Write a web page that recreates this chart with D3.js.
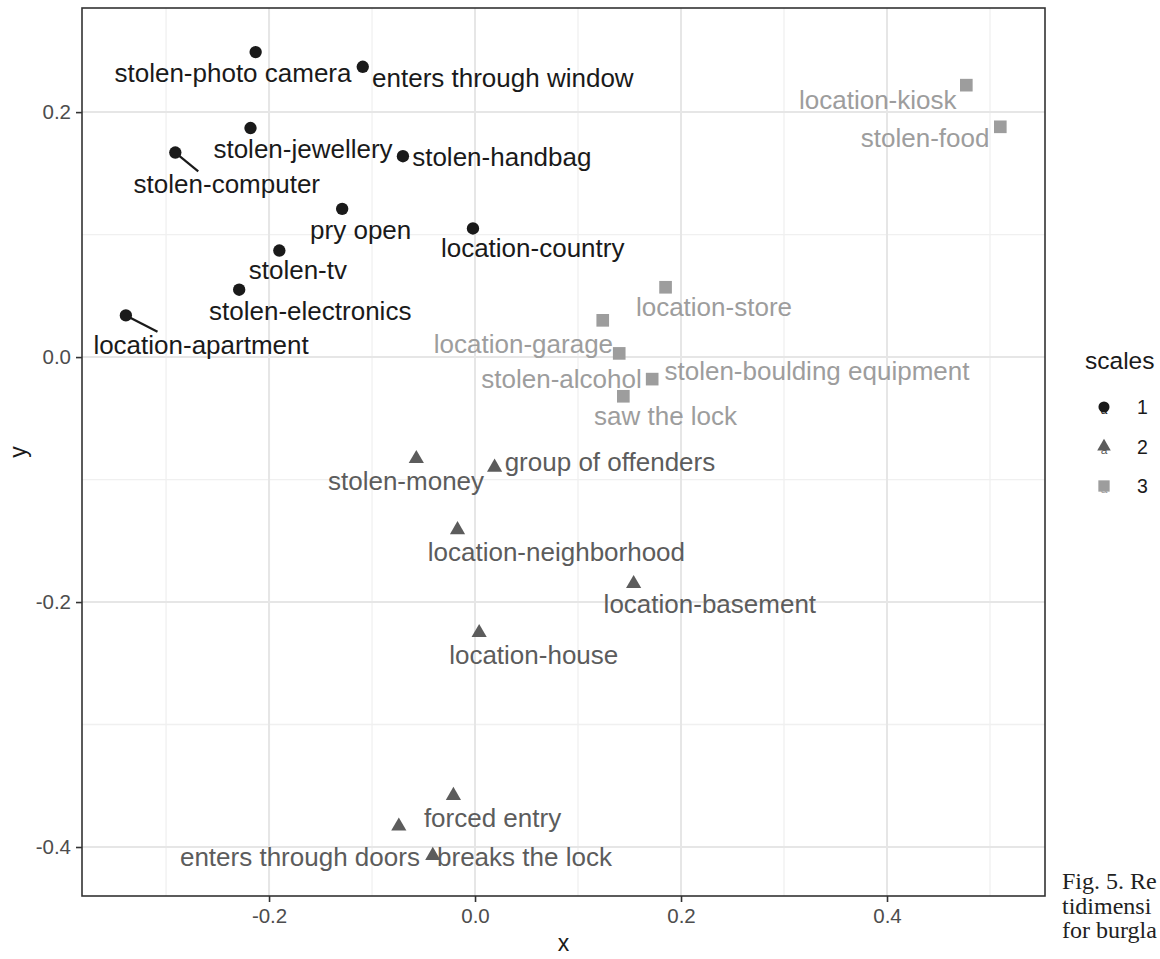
<!DOCTYPE html>
<html>
<head>
<meta charset="utf-8">
<script src="https://cdn.jsdelivr.net/npm/d3@7"></script>
<style>
body { margin: 0; background: #ffffff; }
svg { display: block; font-family: "Liberation Sans", Arial, sans-serif; }
</style>
</head>
<body>
<div class="chart"></div>
<script>
// ---- data ----
let SCALES = ["1", "2", "3"];

let NAMES_1 = ["stolen-photo camera", "enters through window", "stolen-jewellery", "stolen-handbag",
               "stolen-computer", "pry open", "location-country", "stolen-tv",
               "stolen-electronics", "location-apartment"];
let X_1 = [-0.213, -0.109, -0.218, -0.070, -0.291, -0.129, -0.002, -0.190, -0.229, -0.339];
let Y_1 = [0.249, 0.237, 0.187, 0.164, 0.167, 0.121, 0.105, 0.087, 0.055, 0.034];
// repelled label positions (data units)
let LX_1 = [-0.235, 0.027, -0.167, 0.026, -0.241, -0.111, 0.056, -0.172, -0.160, -0.266];
let LY_1 = [0.232, 0.228, 0.170, 0.163, 0.141, 0.104, 0.089, 0.071, 0.038, 0.010];

let NAMES_2 = ["stolen-money", "group of offenders", "location-neighborhood", "location-basement",
               "location-house", "forced entry", "enters through doors", "breaks the lock"];
let X_2 = [-0.057, 0.019, -0.017, 0.154, 0.004, -0.021, -0.074, -0.041];
let Y_2 = [-0.083, -0.090, -0.141, -0.185, -0.225, -0.358, -0.383, -0.407];
let LX_2 = [-0.067, 0.131, 0.079, 0.228, 0.057, 0.017, -0.170, 0.048];
let LY_2 = [-0.101, -0.086, -0.159, -0.202, -0.243, -0.376, -0.408, -0.408];

let NAMES_3 = ["location-kiosk", "stolen-food", "location-store", "location-garage",
               "stolen-alcohol", "stolen-boulding equipment", "saw the lock"];
let X_3 = [0.477, 0.510, 0.185, 0.124, 0.140, 0.172, 0.144];
let Y_3 = [0.222, 0.188, 0.057, 0.030, 0.003, -0.018, -0.032];
let LX_3 = [0.391, 0.437, 0.232, 0.047, 0.084, 0.332, 0.185];
let LY_3 = [0.210, 0.179, 0.041, 0.011, -0.018, -0.011, -0.048];

// labels that got a leader segment
let SEGMENT_NAMES = ["stolen-computer", "location-apartment"];

let X_BREAKS = [-0.2, 0.0, 0.2, 0.4];
let X_MINOR = [-0.3, -0.1, 0.1, 0.3, 0.5];
let Y_BREAKS = [-0.4, -0.2, 0.0, 0.2];
let Y_MINOR = [-0.3, -0.1, 0.1];

// ---- frame ----
let FRAME_WIDTH = 1160;
let FRAME_HEIGHT = 959;
let MARGINS = {left: 82, right: 115, top: 8, bottom: 63};
let PLOT_W = FRAME_WIDTH - MARGINS.left - MARGINS.right;
let PLOT_H = FRAME_HEIGHT - MARGINS.top - MARGINS.bottom;

let COLORS = {"1": "#1a1a1a", "2": "#5c5c5c", "3": "#9d9d9d"};
let SHAPES = {"1": d3.symbolCircle, "2": d3.symbolTriangle, "3": d3.symbolSquare};
let SIZES = {"1": 120, "2": 100, "3": 160};

let rows = [];
[[NAMES_1, X_1, Y_1, LX_1, LY_1, "1"],
 [NAMES_2, X_2, Y_2, LX_2, LY_2, "2"],
 [NAMES_3, X_3, Y_3, LX_3, LY_3, "3"]].forEach(([n, xs, ys, lxs, lys, s]) => {
    n.forEach((name, i) => rows.push({name: name, x: xs[i], y: ys[i], lx: lxs[i], ly: lys[i], scale: s}));
});

let svg = d3.select(".chart").append("svg")
    .attr("width", FRAME_WIDTH)
    .attr("height", FRAME_HEIGHT);

const X_SCALE = d3.scaleLinear().domain([-0.3816, 0.5534]).range([MARGINS.left, MARGINS.left + PLOT_W]);
const Y_SCALE = d3.scaleLinear().domain([-0.44, 0.285]).range([MARGINS.top + PLOT_H, MARGINS.top]);

// grid
let grid = svg.append("g");
grid.selectAll(".vminor").data(X_MINOR).enter().append("line")
    .attr("x1", d => X_SCALE(d)).attr("x2", d => X_SCALE(d))
    .attr("y1", MARGINS.top).attr("y2", MARGINS.top + PLOT_H)
    .attr("stroke", "#f0f0f0").attr("stroke-width", 1.3);
grid.selectAll(".hminor").data(Y_MINOR).enter().append("line")
    .attr("y1", d => Y_SCALE(d)).attr("y2", d => Y_SCALE(d))
    .attr("x1", MARGINS.left).attr("x2", MARGINS.left + PLOT_W)
    .attr("stroke", "#f0f0f0").attr("stroke-width", 1.3);
grid.selectAll(".vmajor").data(X_BREAKS).enter().append("line")
    .attr("x1", d => X_SCALE(d)).attr("x2", d => X_SCALE(d))
    .attr("y1", MARGINS.top).attr("y2", MARGINS.top + PLOT_H)
    .attr("stroke", "#e6e6e6").attr("stroke-width", 2);
grid.selectAll(".hmajor").data(Y_BREAKS).enter().append("line")
    .attr("y1", d => Y_SCALE(d)).attr("y2", d => Y_SCALE(d))
    .attr("x1", MARGINS.left).attr("x2", MARGINS.left + PLOT_W)
    .attr("stroke", "#e6e6e6").attr("stroke-width", 2);

// axes
let fmt = d => d.toFixed(1);
let xAxis = svg.append("g")
    .attr("transform", "translate(0," + (MARGINS.top + PLOT_H) + ")")
    .call(d3.axisBottom(X_SCALE).tickValues(X_BREAKS).tickFormat(fmt).tickSize(6).tickPadding(6));
let yAxis = svg.append("g")
    .attr("transform", "translate(" + MARGINS.left + ",0)")
    .call(d3.axisLeft(Y_SCALE).tickValues(Y_BREAKS).tickFormat(fmt).tickSize(6).tickPadding(5));
[xAxis, yAxis].forEach(a => {
    a.select(".domain").remove();
    a.selectAll(".tick line").attr("stroke", "#333333").attr("stroke-width", 1.6);
    a.selectAll(".tick text").attr("fill", "#4d4d4d").attr("font-size", "20.5px")
        .attr("font-family", "Liberation Sans, Arial, sans-serif");
});

// labels + segments
let labelG = svg.append("g");
let labels = labelG.selectAll("text").data(rows).enter().append("text")
    .attr("x", d => X_SCALE(d.lx))
    .attr("y", d => Y_SCALE(d.ly))
    .attr("text-anchor", "middle")
    .attr("dominant-baseline", "central")
    .attr("font-size", "26px")
    .attr("fill", d => COLORS[d.scale])
    .text(d => d.name);

// leader segment from point to the top of the label box
labels.filter(d => SEGMENT_NAMES.includes(d.name)).each(function(d) {
    let b = this.getBBox();
    let px = X_SCALE(d.x), py = Y_SCALE(d.y);
    let cx = b.x + b.width / 2, cy = b.y + b.height / 2;
    let top = b.y + 2;
    let t = (top - py) / (cy - py);
    labelG.insert("line", ":first-child")
        .attr("x1", px).attr("y1", py)
        .attr("x2", px + (cx - px) * t * 0.75).attr("y2", py + (cy - py) * t)
        .attr("stroke", COLORS[d.scale]).attr("stroke-width", 2.2);
});

// points
svg.append("g").selectAll("path").data(rows).enter().append("path")
    .attr("transform", d => "translate(" + X_SCALE(d.x) + "," + Y_SCALE(d.y) + ")")
    .attr("d", d => d3.symbol().type(SHAPES[d.scale]).size(SIZES[d.scale])())
    .attr("fill", d => COLORS[d.scale]);

// panel border
svg.append("rect")
    .attr("x", MARGINS.left).attr("y", MARGINS.top)
    .attr("width", PLOT_W).attr("height", PLOT_H)
    .attr("fill", "none").attr("stroke", "#333333").attr("stroke-width", 1.6);

// axis titles
svg.append("text")
    .attr("x", MARGINS.left + PLOT_W / 2).attr("y", 951)
    .attr("text-anchor", "middle").attr("font-size", "23px").attr("fill", "#1a1a1a")
    .text("x");
svg.append("text")
    .attr("transform", "translate(26," + (MARGINS.top + PLOT_H / 2) + ") rotate(-90)")
    .attr("text-anchor", "middle").attr("font-size", "23px").attr("fill", "#1a1a1a")
    .text("y");

// legend
let legend = svg.append("g").attr("transform", "translate(1085,0)");
legend.append("text").attr("x", 0).attr("y", 369)
    .attr("font-size", "24.5px").attr("fill", "#1a1a1a").text("scales");
let keys = legend.selectAll(".key").data(SCALES).enter().append("g")
    .attr("transform", (d, i) => "translate(19," + (407 + i * 39.5) + ")");
keys.append("path")
    .attr("d", d => d3.symbol().type(SHAPES[d]).size(SIZES[d] * 0.8)())
    .attr("fill", d => COLORS[d]);
keys.append("text").attr("x", 0).attr("y", 7)
    .attr("text-anchor", "middle").attr("font-size", "12px")
    .attr("fill", d => COLORS[d]).text("a");
keys.append("text").attr("x", 33).attr("y", 0)
    .attr("dominant-baseline", "central").attr("font-size", "19.5px").attr("fill", "#1a1a1a")
    .text(d => d);

// caption fragment at the right edge
let caption = ["Fig. 5. Re", "tidimensi", "for burgla"];
svg.append("g").selectAll("text").data(caption).enter().append("text")
    .attr("x", 1062).attr("y", (d, i) => 889 + i * 24.5)
    .attr("font-family", "Liberation Serif, Times New Roman, serif")
    .attr("font-size", "24px").attr("fill", "#222222")
    .text(d => d);
</script>
</body>
</html>
